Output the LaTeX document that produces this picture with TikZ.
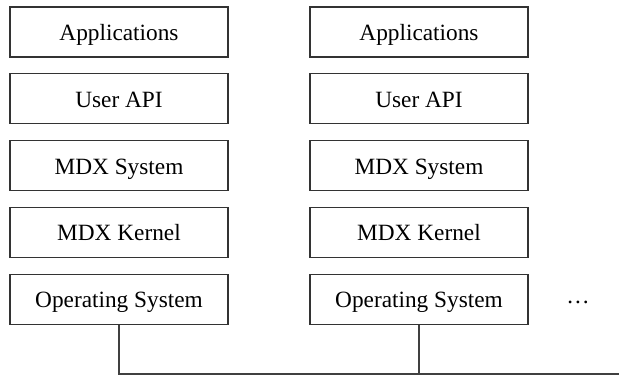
\documentclass[tikz,border=0pt]{standalone}
\usepackage{fontspec}
\setmainfont{Liberation Serif}
\usetikzlibrary{positioning}

\tikzset{
  layer/.style={draw=black!80, line width=1.2pt, minimum width=218pt, minimum height=50pt,
    inner sep=0pt, text height=17pt, text depth=0pt, font=\fontsize{23.3}{27}\selectfont},
  wire/.style={draw=black!75, line width=1.2pt}
}

\begin{document}
\begin{tikzpicture}[x=1pt, y=-1pt]
\useasboundingbox (0,0) rectangle (619,376);

% left host (L) and right host (R)
\foreach \col/\xpos in {L/119, R/419} {
  \foreach \lbl [count=\i] in {Applications, User API, MDX System, MDX Kernel, Operating System} {
    \pgfmathsetmacro{\ypos}{32 + 66.8*(\i-1)}
    \node[layer] (\col\i) at (\xpos,\ypos) {\lbl};
  }
}

% more hosts
\node[font=\fontsize{23.3}{27}\selectfont] (more) at (578,302) {\dots};

% network bus
\coordinate (bus) at (619,374);
\draw[wire] (L5.south) |- (bus);
\draw[wire] (R5.south) -- (R5.south |- bus);
\end{tikzpicture}
\end{document}
